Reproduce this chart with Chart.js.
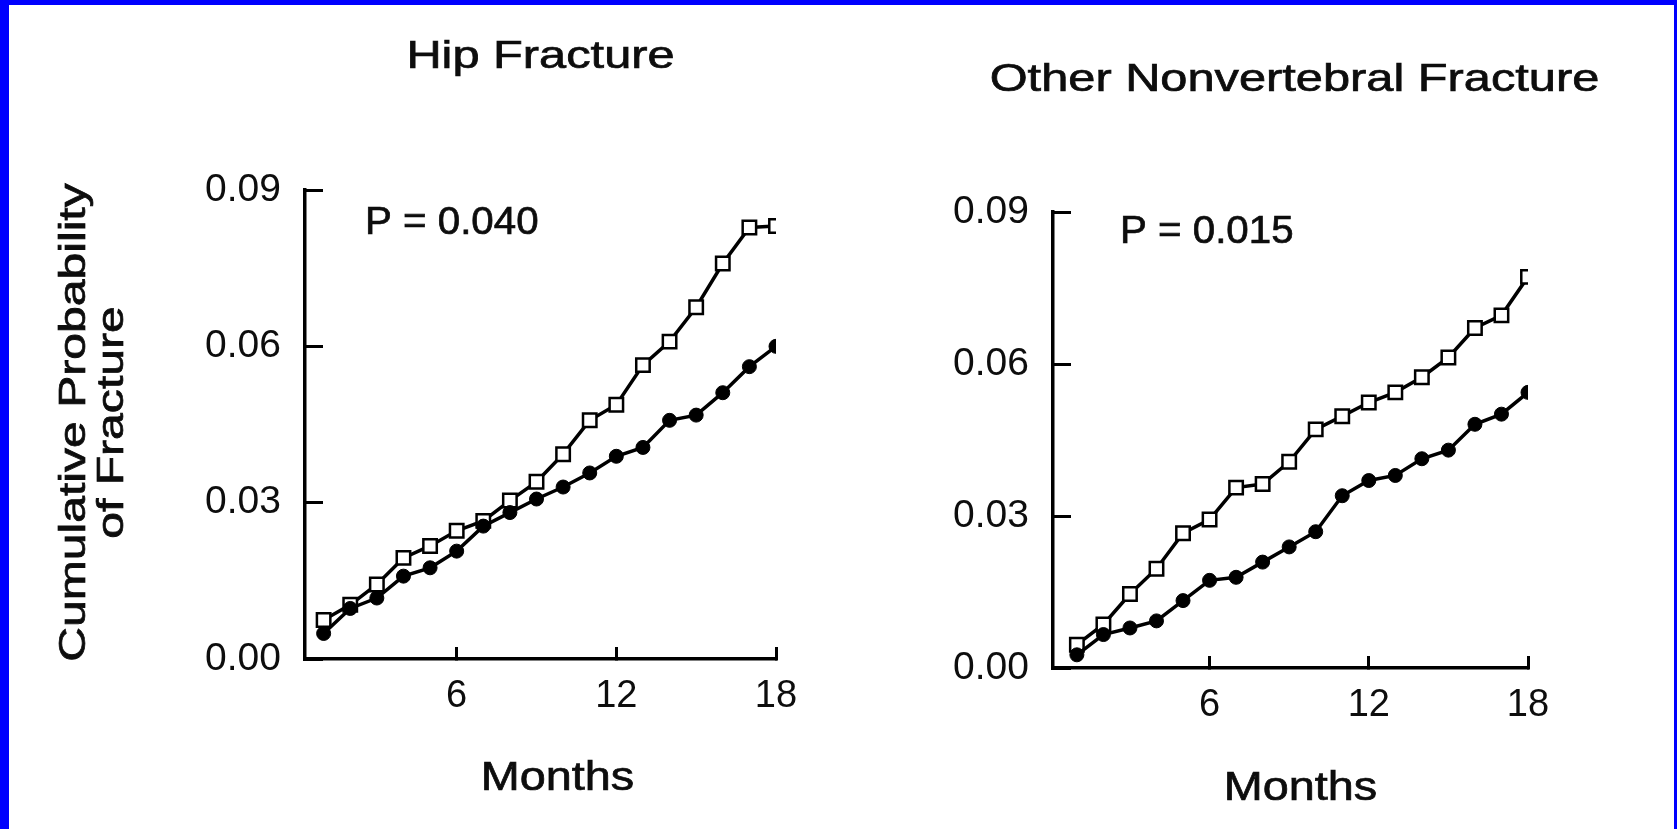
<!DOCTYPE html>
<html>
<head>
<meta charset="utf-8">
<title>Cumulative Probability of Fracture</title>
<script src="https://cdn.jsdelivr.net/npm/chart.js@4.4.1/dist/chart.umd.min.js"></script>
<style>
  html, body { margin: 0; padding: 0; }
  body { width: 1677px; height: 829px; background: #0000fe; position: relative; overflow: hidden; }
  .sheet { position: absolute; left: 9px; top: 5px; width: 1665px; height: 824px; background: #fff; }
  canvas { position: absolute; top: 0; }
  #hipChart { left: 0; }
  #otherChart { left: 821px; }
</style>
</head>
<body>
<div class="sheet">
  <canvas id="hipChart" width="821" height="824"></canvas>
  <canvas id="otherChart" width="844" height="824"></canvas>
</div>
<script>
// months of follow-up, one point per month
const months = [1, 2, 3, 4, 5, 6, 7, 8, 9, 10, 11, 12, 13, 14, 15, 16, 17, 18];

// hip fracture, cumulative probability
const hipPlacebo = [0.0075, 0.0104, 0.0143, 0.0194, 0.0217, 0.0246, 0.0265, 0.0304, 0.0340, 0.0393,
                    0.0458, 0.0488, 0.0564, 0.0609, 0.0675, 0.0759, 0.0828, 0.0831];
const hipTreated = [0.0049, 0.0097, 0.0117, 0.0159, 0.0175, 0.0207, 0.0255, 0.0281, 0.0307, 0.0330,
                    0.0357, 0.0389, 0.0406, 0.0458, 0.0468, 0.0511, 0.0561, 0.0600];

// other nonvertebral fracture, cumulative probability
const otherPlacebo = [0.0046, 0.0086, 0.0146, 0.0196, 0.0266, 0.0293, 0.0356, 0.0363, 0.0407, 0.0471,
                      0.0497, 0.0524, 0.0544, 0.0574, 0.0613, 0.0671, 0.0696, 0.0772];
const otherTreated = [0.0026, 0.0066, 0.0079, 0.0093, 0.0133, 0.0173, 0.0179, 0.0209, 0.0239, 0.0269,
                      0.0340, 0.0370, 0.0380, 0.0413, 0.0430, 0.0481, 0.0501, 0.0544];

const monthTicks = [6, 12, 18];
const probTicks = ['0.00', '0.03', '0.06', '0.09'];

const ink = '#0d0d0d';
const fontFamily = '"Liberation Sans", Arial, Helvetica, sans-serif';

// text is drawn a little wide and with a thin outline, like the printed figure
function drawText(ctx, text, x, y, size, stretch, align, angle) {
  ctx.save();
  ctx.translate(x, y);
  if (angle) ctx.rotate(angle);
  ctx.scale(stretch, 1);
  ctx.font = size + 'px ' + fontFamily;
  ctx.textAlign = align;
  ctx.textBaseline = 'alphabetic';
  ctx.fillStyle = ink;
  ctx.strokeStyle = ink;
  ctx.lineWidth = 0.7;
  ctx.fillText(text, 0, 0);
  ctx.strokeText(text, 0, 0);
  ctx.restore();
}

// panel heading, x-axis title, P value and (left panel only) y-axis title
const panelText = {
  id: 'panelText',
  afterDraw(chart, args, opts) {
    const { ctx, chartArea: a } = chart;
    const cx = (a.left + a.right) / 2;
    drawText(ctx, opts.title, cx + opts.titleShift, a.top - opts.titleRise, 39, 1.25, 'center');
    drawText(ctx, 'Months', cx + opts.monthsShift, a.bottom + opts.monthsDrop, 40, 1.17, 'center');
    drawText(ctx, opts.pValue, a.left + opts.pInset, a.top + opts.pDrop, 38, 1.06, 'left');
    if (opts.yTitle) {
      const cy = (a.top + a.bottom) / 2 - 2;
      opts.yTitle.forEach((line, i) => {
        drawText(ctx, line, a.left - 220 + i * 38, cy, 37, 1.3, 'center', -Math.PI / 2);
      });
    }
  }
};

function series(label, values, square) {
  return {
    label: label,
    data: months.map((m, i) => ({ x: m, y: values[i] })),
    borderColor: '#000',
    borderWidth: 3.5,
    tension: 0,
    pointStyle: square ? 'rect' : 'circle',
    pointRadius: square ? 9.5 : 7,
    pointBorderWidth: square ? 2.5 : 1,
    pointBorderColor: '#000',
    pointBackgroundColor: square ? '#fff' : '#000',
    order: square ? 1 : 0
  };
}

function makePanel(canvasId, placebo, treated, cfg) {
  return new Chart(document.getElementById(canvasId), {
    type: 'line',
    data: {
      datasets: [
        series('Placebo', placebo, true),
        series('Vitamin D3 and calcium', treated, false)
      ]
    },
    options: {
      responsive: false,
      animation: false,
      layout: { padding: cfg.padding },
      plugins: {
        legend: { display: false },
        tooltip: { enabled: false },
        title: { display: false },
        panelText: cfg.text
      },
      scales: {
        x: {
          type: 'linear',
          min: cfg.xMin,
          max: 18,
          afterFit: (s) => { s.height = 60; },
          border: { color: '#000', width: 3.5 },
          grid: { drawOnChartArea: false, tickLength: -12, tickWidth: 3, tickColor: '#000' },
          ticks: {
            stepSize: 6,
            includeBounds: false,
            padding: 27,
            color: ink,
            font: { family: fontFamily, size: 38 },
            callback: (v) => monthTicks.includes(v) ? String(v) : ''
          }
        },
        y: {
          min: 0,
          max: 0.09,
          afterFit: (s) => { s.width = cfg.yWidth; },
          border: { color: '#000', width: 3.5 },
          grid: { drawOnChartArea: false, tickLength: -18, tickWidth: 3, tickColor: '#000' },
          ticks: {
            stepSize: 0.03,
            padding: 42,
            color: ink,
            font: { family: fontFamily, size: 39 },
            callback: (v, i) => probTicks[i]
          }
        }
      }
    },
    plugins: [panelText]
  });
}

makePanel('hipChart', hipPlacebo, hipTreated, {
  padding: { left: 150, right: 54, top: 185, bottom: 110 },
  yWidth: 146,
  xMin: 0.3,
  text: {
    title: 'Hip Fracture', titleShift: 0, titleRise: 122,
    monthsShift: 17, monthsDrop: 131,
    pValue: 'P = 0.040', pInset: 60, pDrop: 44,
    yTitle: ['Cumulative Probability', 'of Fracture']
  }
});

makePanel('otherChart', otherPlacebo, otherTreated, {
  padding: { left: 100, right: 146, top: 207, bottom: 101 },
  yWidth: 123,
  xMin: 0.1,
  text: {
    title: 'Other Nonvertebral Fracture', titleShift: 4, titleRise: 121,
    monthsShift: 10, monthsDrop: 132,
    pValue: 'P = 0.015', pInset: 67, pDrop: 31
  }
});
</script>
</body>
</html>
